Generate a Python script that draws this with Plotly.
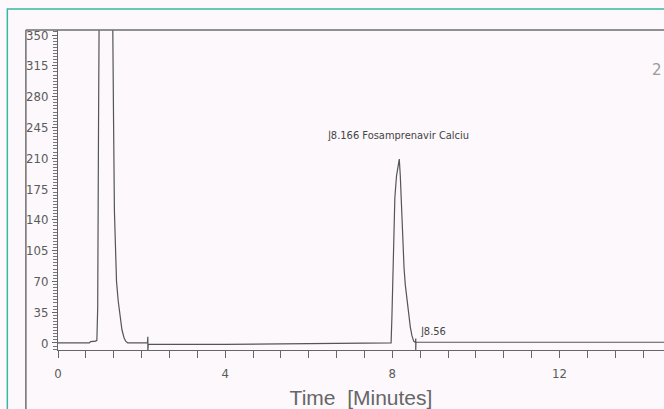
import plotly.graph_objects as go

# Chromatogram trace (time in minutes, detector signal)
time_min = [0.00, 0.75, 0.78, 0.90, 0.93, 0.95, 0.97, 0.99, 1.30, 1.31, 1.33, 1.35,
            1.37, 1.40, 1.44, 1.48, 1.53, 1.58, 1.62, 1.67, 2.14, 2.15, 2.15, 2.16,
            4.00, 7.00, 7.95, 7.97, 7.99, 8.01, 8.03, 8.06, 8.10, 8.14, 8.166, 8.19,
            8.22, 8.25, 8.28, 8.31, 8.35, 8.39, 8.43, 8.47, 8.51, 8.555, 8.56, 8.56,
            8.565, 14.60]
signal = [0.0, 0.0, 1.5, 2.0, 3.0, 40.0, 250.0, 420.0, 420.0, 330.0, 250.0, 150.0,
          100.0, 70.0, 48.0, 30.0, 15.0, 6.0, 2.0, 0.0, 0.0, 7.0, -9.0, -1.5,
          -1.5, -1.0, -0.5, 0.0, 30.0, 80.0, 120.0, 165.0, 190.0, 204.0, 209.0, 190.0,
          150.0, 115.0, 85.0, 66.0, 48.0, 32.0, 18.0, 8.0, 2.0, 0.5, 5.0, -8.0,
          0.8, 0.8]

x_tick_vals = [0, 4, 8, 12]
y_tick_vals = [0, 35, 70, 105, 140, 175, 210, 245, 280, 315, 350]

peak_labels = ["\u230b8.166 Fosamprenavir Calciu", "\u230b8.56"]
peak_label_x = [6.40, 8.62]
peak_label_y = [236, 13]

NARROW = "Liberation Sans Narrow, DejaVu Sans Condensed, Arial Narrow, sans-serif"
INK = "#5a5a5a"
BG = "#fcf8fb"

fig = go.Figure()
fig.add_trace(go.Scatter(x=time_min, y=signal, mode="lines",
                         line=dict(color="#555555", width=1.2),
                         hoverinfo="skip", showlegend=False))

for txt, lx, ly in zip(peak_labels, peak_label_x, peak_label_y):
    fig.add_annotation(x=lx, y=ly, xref="x", yref="y", text=txt, showarrow=False,
                       xanchor="left", yanchor="middle",
                       font=dict(family=NARROW, size=11, color="#444444"))

# faint handwritten mark at the right edge
fig.add_annotation(x=1.0, y=0.91, xref="paper", yref="paper", text="2",
                   showarrow=False, xanchor="right",
                   font=dict(family="DejaVu Sans", size=15, color="#9a9a9a"))

# outer frame of the printed chart
fig.add_shape(type="line", xref="paper", yref="paper", x0=-0.053, x1=-0.053,
              y0=-0.3, y1=1.0, line=dict(color="#6f6f6f", width=1.5))
fig.add_shape(type="line", xref="paper", yref="paper", x0=-0.053, x1=1.1,
              y0=1.0, y1=1.0, line=dict(color="#6f6f6f", width=1.5))
# teal border of the scan
fig.add_shape(type="rect", xref="paper", yref="paper", x0=-0.0836, x1=1.2,
              y0=-0.4, y1=1.066, line=dict(color="#35b89f", width=1.5))

fig.update_layout(
    width=664, height=409,
    margin=dict(l=58, r=0, t=30, b=59),
    paper_bgcolor=BG, plot_bgcolor=BG,
    xaxis=dict(range=[0, 14.5], tickvals=x_tick_vals, ticks="outside", ticklen=7,
               tickcolor="#666666", tickwidth=1, showline=True, linecolor="#666666",
               linewidth=1.2, showgrid=False, zeroline=False,
               minor=dict(dtick=2/3, tick0=0, ticks="outside", ticklen=7,
                          tickcolor="#666666", showgrid=False),
               ticklabelstandoff=4,
               tickfont=dict(family=NARROW, size=13, color=INK),
               title=dict(text="Time  [Minutes]", standoff=12,
                          font=dict(family="Liberation Sans, Arial, sans-serif",
                                    size=21, color="#666666"))),
    yaxis=dict(range=[-8, 355.7], tickvals=y_tick_vals, ticks="outside", ticklen=5,
               tickcolor="#666666", tickwidth=1, showline=True, linecolor="#666666",
               linewidth=1, showgrid=False, zeroline=False,
               minor=dict(dtick=3.5, tick0=0, ticks="outside", ticklen=4,
                          tickcolor="#777777", showgrid=False),
               ticklabelstandoff=1,
               tickfont=dict(family=NARROW, size=13, color=INK)),
)

fig.write_html("out.html", config={"displayModeBar": False},
               post_script="document.body.style.margin='0';document.body.style.overflow='hidden';")
